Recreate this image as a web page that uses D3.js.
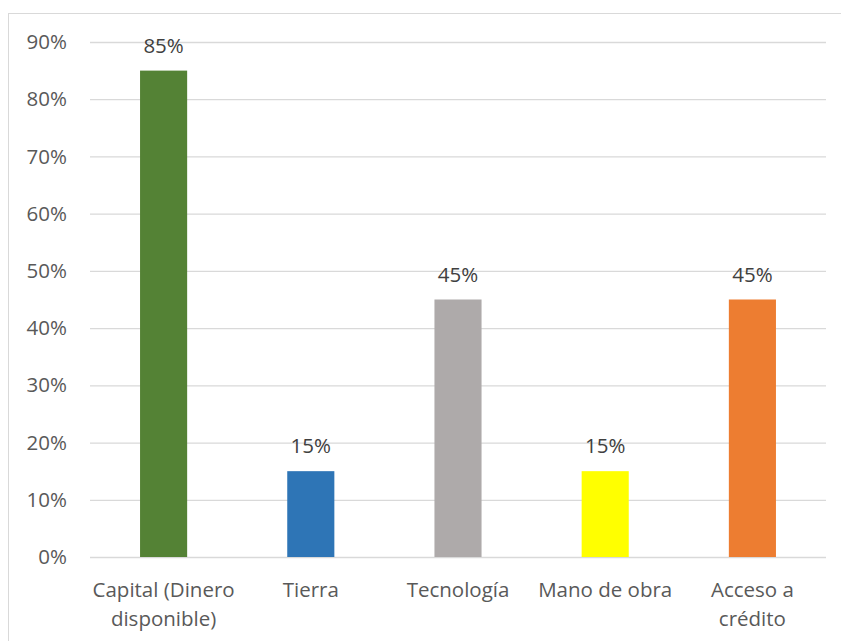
<!DOCTYPE html>
<html><head><meta charset="utf-8">
<script src="https://cdn.jsdelivr.net/npm/d3@7"></script>
<style>body{margin:0;background:#fff}svg{display:block}</style>
</head><body><svg id="c" width="841" height="641"></svg>
<script>
const categories = [["Capital (Dinero","disponible)"],["Tierra"],["Tecnología"],["Mano de obra"],["Acceso a","crédito"]];
const values = [0.85, 0.15, 0.45, 0.15, 0.45];
const colors = ["#548235", "#2E75B6", "#AEAAAA", "#FFFF00", "#ED7D31"];
const yTicks = [0,0.1,0.2,0.3,0.4,0.5,0.6,0.7,0.8,0.9];

const svg = d3.select("#c");
const font = "Open Sans, Liberation Sans, sans-serif";
const fs = "20.5px";
svg.append("rect").attr("x",8.5).attr("y",13.5).attr("width",840).attr("height",640)
  .attr("fill","#fff").attr("stroke","#d9d9d9").attr("stroke-width",1);

const x0 = 90, x1 = 826, yTop = 42, yBot = 557;
const x = d3.scaleBand().domain(d3.range(values.length)).range([x0,x1]).paddingInner(0.68).paddingOuter(0.34);
const y = d3.scaleLinear().domain([0,0.9]).range([yBot,yTop]);

const gy = svg.append("g").attr("transform",`translate(${x0},0)`)
  .call(d3.axisLeft(y).tickValues(yTicks).tickFormat(d3.format(".0%")).tickSize(-(x1-x0)).tickPadding(23));
gy.select(".domain").remove();
gy.selectAll(".tick line").attr("stroke","#d9d9d9").attr("stroke-width",1.3);
gy.selectAll(".tick text").attr("fill","#595959").style("font-family",font).style("font-size",fs);

svg.selectAll("rect.bar").data(values).join("rect").attr("class","bar")
  .attr("x",(d,i)=>x(i)).attr("width",x.bandwidth())
  .attr("y",d=>y(d)).attr("height",d=>yBot-y(d)).attr("fill",(d,i)=>colors[i]);

svg.selectAll("text.lbl").data(values).join("text").attr("class","lbl")
  .attr("x",(d,i)=>x(i)+x.bandwidth()/2).attr("y",d=>y(d)-18)
  .attr("text-anchor","middle").attr("fill","#404040")
  .style("font-family",font).style("font-size",fs).text(d3.format(".0%"));

const xl = svg.selectAll("text.cat").data(categories).join("text").attr("class","cat")
  .attr("x",(d,i)=>x(i)+x.bandwidth()/2).attr("y",597)
  .attr("text-anchor","middle").attr("fill","#595959")
  .style("font-family",font).style("font-size",fs);
xl.selectAll("tspan").data((d,i)=>d.map(t=>({t,i}))).join("tspan")
  .attr("x",d=>x(d.i)+x.bandwidth()/2).attr("dy",(d,j)=>j===0?0:29).text(d=>d.t);
</script></body></html>
